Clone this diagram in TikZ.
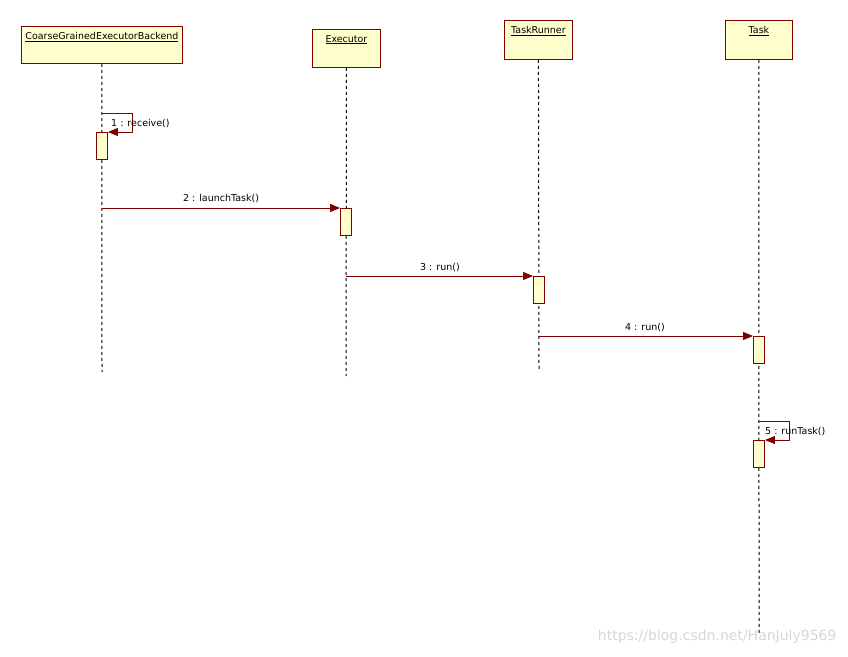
\documentclass[tikz,border=0pt]{standalone}
\usepackage{fontspec}
\setmainfont{DejaVu Sans}
\usetikzlibrary{positioning,arrows.meta}
\definecolor{umlfill}{RGB}{255,255,206}
\definecolor{umlline}{RGB}{128,0,0}
\tikzset{
  lbox/.style   = {draw=umlline, fill=umlfill, line width=0.9pt, anchor=north west,
                   inner sep=0pt},
  lifeline/.style = {draw=black, dash pattern=on 3pt off 3pt, line width=1pt},
  actbar/.style = {draw=umlline, fill=umlfill, line width=0.9pt, anchor=north,
                   minimum width=11pt, minimum height=27pt, inner sep=0pt},
  msg/.style    = {draw=umlline, line width=0.9pt, -{Triangle[length=10pt,width=8pt]}},
  mlabel/.style = {font=\fontsize{9.5}{11}\selectfont, inner sep=1pt},
}
\begin{document}
\begin{tikzpicture}[x=1pt, y=-1pt]
  \useasboundingbox (0,0) rectangle (848,656);

  % object boxes
  \node[lbox, minimum width=161pt, minimum height=37pt] (cgeb) at (21,26) {};
  \node[lbox, minimum width=68pt, minimum height=38pt]  (exec) at (312,29) {};
  \node[lbox, minimum width=68pt, minimum height=39pt]  (trun) at (504,20) {};
  \node[lbox, minimum width=67pt, minimum height=39pt]  (task) at (725,20) {};

  \node[mlabel, below=5pt of cgeb.north] {\underline{CoarseGrainedExecutorBackend}};
  \node[mlabel, below=5pt of exec.north] {\underline{Executor}};
  \node[mlabel, below=5pt of trun.north] {\underline{TaskRunner}};
  \node[mlabel, below=5pt of task.north] {\underline{Task}};

  % lifelines
  \coordinate (cgebend) at (102,372);
  \coordinate (execend) at (346,376);
  \coordinate (trunend) at (539,370);
  \coordinate (taskend) at (759,635);
  \draw[lifeline] (cgeb.south) -- (cgebend);
  \draw[lifeline] (exec.south) -- (execend);
  \draw[lifeline] (trun.south) -- (trunend);
  \draw[lifeline] (task.south) -- (taskend);

  % activations
  \node[actbar] (a1) at (102,132) {};
  \node[actbar] (a2) at (346,208) {};
  \node[actbar] (a3) at (539,276) {};
  \node[actbar] (a4) at (759,336) {};
  \node[actbar] (a5) at (759,440) {};

  % messages
  \coordinate (m1) at (102,113);
  \coordinate (m2) at (102,208);
  \coordinate (m3) at (346,276);
  \coordinate (m4) at (539,336);
  \coordinate (m5) at (759,421);
  \draw[msg] (m1) -- ++(30,0) |- (a1.north east);
  \draw[msg] (m2) -- (a2.north west);
  \draw[msg] (m3) -- (a3.north west);
  \draw[msg] (m4) -- (a4.north west);
  \draw[msg] (m5) -- ++(30,0) |- (a5.north east);

  \node[mlabel, anchor=west] (l1) at (110,124) {1 : receive()};
  \node[mlabel] (l2) at (221,199) {2 : launchTask()};
  \node[mlabel] (l3) at (440,268) {3 : run()};
  \node[mlabel] (l4) at (645,328) {4 : run()};
  \node[mlabel, anchor=west] (l5) at (764,432) {5 : runTask()};

  % watermark
  \node[font=\fontsize{14}{16}\selectfont, text=black!16, anchor=east] (wm) at (840,637)
    {https://blog.csdn.net/HanJuly9569};
\end{tikzpicture}
\end{document}
